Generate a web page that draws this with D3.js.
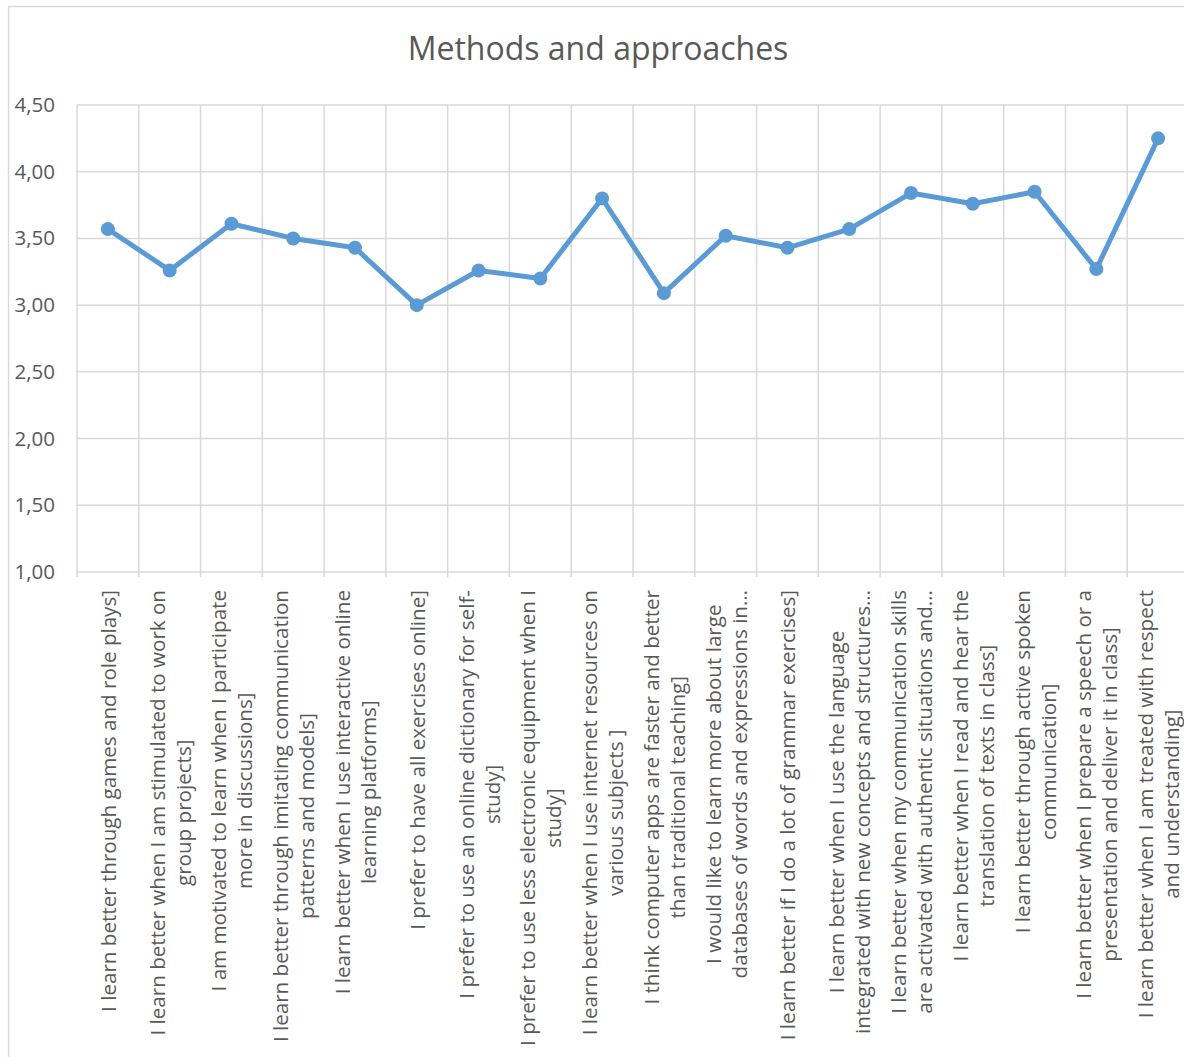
<!DOCTYPE html>
<html><head><meta charset="utf-8">
<script src="https://cdn.jsdelivr.net/npm/d3@7"></script>
<style>body{margin:0;background:#fff;} svg{display:block;}</style>
</head><body>
<svg id="chart" width="1184" height="1057"></svg>
<script>
const title = "Methods and approaches";
const categories = [
  ["I learn better through games and role plays]"],
  ["I learn better when I am stimulated to work on", "group projects]"],
  ["I am motivated to learn when I participate", "more in discussions]"],
  ["I learn better through imitating communication", "patterns and models]"],
  ["I learn better when I use interactive online", "learning platforms]"],
  ["I prefer to have all exercises online]"],
  ["I prefer to use an online dictionary for self-", "study]"],
  ["I prefer to use less electronic equipment when I", "study]"],
  ["I learn better when I use internet resources on", "various subjects ]"],
  ["I think computer apps are faster and better", "than traditional teaching]"],
  ["I would like to learn more about large", "databases of words and expressions in…"],
  ["I learn better if I do a lot of grammar exercises]"],
  ["I learn better when I use the language", "integrated with new concepts and structures…"],
  ["I learn better when my communication skills", "are activated with authentic situations and…"],
  ["I learn better when I read and hear the", "translation of texts in class]"],
  ["I learn better through active spoken", "communication]"],
  ["I learn better when I prepare a speech or a", "presentation and deliver it in class]"],
  ["I learn better when I am treated with respect", "and understanding]"]
];
const values = [3.57, 3.26, 3.61, 3.50, 3.43, 3.00, 3.26, 3.20, 3.80, 3.09, 3.52, 3.43, 3.57, 3.84, 3.76, 3.85, 3.27, 4.25];
const yTicks = [1.0, 1.5, 2.0, 2.5, 3.0, 3.5, 4.0, 4.5];

const svg = d3.select("#chart");
const font = "'Open Sans', sans-serif";
const textColor = "#595959";
const gridColor = "#d9d9d9";

// chart frame (cropped chart area border)
svg.append("line").attr("x1", 8.5).attr("x2", 8.5).attr("y1", 6.5).attr("y2", 1057).attr("stroke", gridColor).attr("stroke-width", 1.5);
svg.append("line").attr("x1", 8.5).attr("x2", 1184).attr("y1", 6.5).attr("y2", 6.5).attr("stroke", gridColor).attr("stroke-width", 1.5);

const plot = {left: 77, right: 1189, top: 105, bottom: 572};
const x = d3.scaleBand().domain(d3.range(categories.length)).range([plot.left, plot.right]).padding(0);
const y = d3.scaleLinear().domain([1, 4.5]).range([plot.bottom, plot.top]);

// title
svg.append("text").attr("x", 598).attr("y", 60).attr("text-anchor", "middle")
  .attr("font-family", font).attr("font-size", 32).attr("fill", textColor).text(title);

// horizontal gridlines
svg.append("g").selectAll("line").data(yTicks).join("line")
  .attr("x1", plot.left).attr("x2", plot.right)
  .attr("y1", d => y(d)).attr("y2", d => y(d))
  .attr("stroke", gridColor).attr("stroke-width", 1.5);

// vertical gridlines at band boundaries
const bounds = d3.range(categories.length + 1).map(i => plot.left + i * x.bandwidth());
svg.append("g").selectAll("line").data(bounds).join("line")
  .attr("x1", d => d).attr("x2", d => d)
  .attr("y1", plot.top).attr("y2", plot.bottom + 5)
  .attr("stroke", gridColor).attr("stroke-width", 1.5);

// y axis labels
const yAxis = d3.axisLeft(y).tickValues(yTicks).tickSize(0).tickPadding(0)
  .tickFormat(d => d3.format(".2f")(d).replace(".", ","));
const yg = svg.append("g").attr("transform", `translate(55,0)`).call(yAxis);
yg.select(".domain").remove();
yg.selectAll("text").attr("font-family", font).attr("font-size", 20.5).attr("fill", textColor);

// category labels
const lineH = 26;
const labelTop = 590;
categories.forEach((lines, i) => {
  const cx = x(i) + x.bandwidth() / 2;
  const g = svg.append("g").attr("transform", `translate(${cx},${labelTop}) rotate(-90)`);
  const texts = g.selectAll("text").data(lines).join("text")
    .attr("font-family", font).attr("font-size", 20.6).attr("fill", textColor)
    .attr("dominant-baseline", "central")
    .attr("text-anchor", "middle")
    .attr("y", (d, j) => (j - (lines.length - 1) / 2) * lineH)
    .text(d => d);
  let maxW = 0;
  texts.each(function() { maxW = Math.max(maxW, this.getComputedTextLength()); });
  texts.attr("x", -maxW / 2);
});

// line
const line = d3.line().x((d, i) => x(i) + x.bandwidth() / 2).y(d => y(d));
svg.append("path").datum(values).attr("d", line)
  .attr("fill", "none").attr("stroke", "#5B9BD5").attr("stroke-width", 5)
  .attr("stroke-linejoin", "round");
svg.append("g").selectAll("circle").data(values).join("circle")
  .attr("cx", (d, i) => x(i) + x.bandwidth() / 2).attr("cy", d => y(d))
  .attr("r", 7).attr("fill", "#5B9BD5");
</script>
</body></html>
